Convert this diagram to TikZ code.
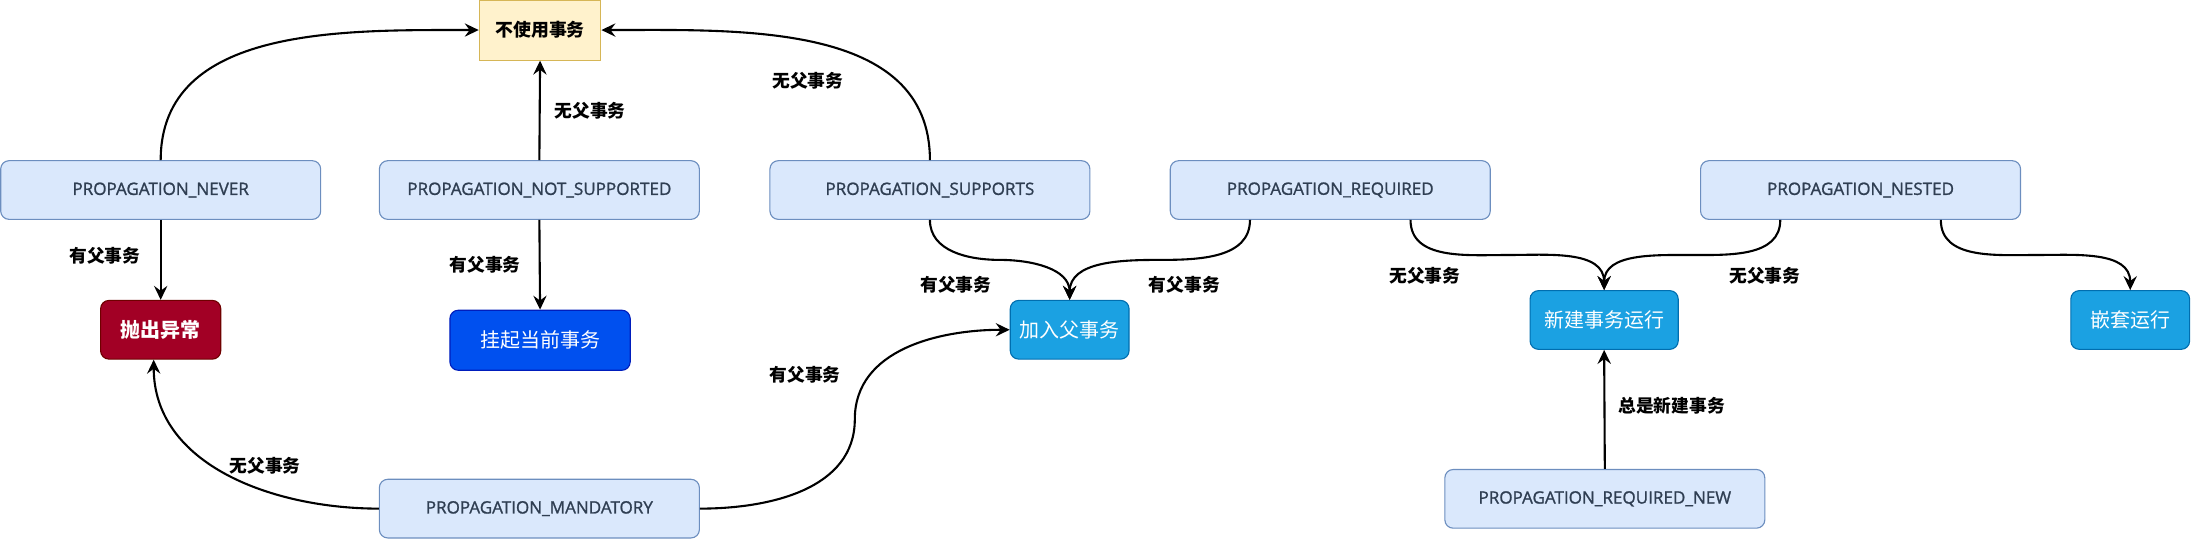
\documentclass[tikz,border=0pt]{standalone}
\usepackage{fontspec}
\setmainfont{Open Sans}
\newfontfamily\cjk{Noto Sans CJK SC}
\newfontfamily\propfont{Open Sans}[FakeBold=1.2]
\usetikzlibrary{arrows.meta,calc}
\definecolor{propfill}{HTML}{DAE8FC}
\definecolor{propline}{HTML}{6C8EBF}
\definecolor{proptext}{HTML}{2F3E52}
\definecolor{nousefill}{HTML}{FFF2CC}
\definecolor{nouseline}{HTML}{D6B656}
\definecolor{errfill}{HTML}{A20025}
\definecolor{errline}{HTML}{6F0000}
\definecolor{suspfill}{HTML}{0050EF}
\definecolor{suspline}{HTML}{001DBC}
\definecolor{runfill}{HTML}{1BA1E2}
\definecolor{runline}{HTML}{006EAF}

\begin{document}
\begin{tikzpicture}[x=1pt,y=-1pt,
   prop/.style={draw=propline,fill=propfill,rounded corners=6pt,line width=.8pt,
      minimum width=229pt,minimum height=42pt,inner sep=0pt,text=proptext,
      font=\propfont\fontsize{12.2}{14}\selectfont},
   act/.style 2 args={draw=#2,fill=#1,rounded corners=6pt,line width=.8pt,
      minimum height=42pt,inner sep=0pt,text=white,font=\cjk\fontsize{14.3}{16}\selectfont},
   lbl/.style={inner sep=0pt,font=\cjk\bfseries\fontsize{12.7}{14}\selectfont},
   arr/.style={-{Stealth[length=10pt,width=9.5pt,inset=3.5pt]},line width=1.5pt}]
\useasboundingbox (0,0) rectangle (1568,387);

\node[draw=nouseline,fill=nousefill,line width=.8pt,minimum width=87pt,minimum height=43pt,
   inner sep=0pt,font=\cjk\bfseries\fontsize{12.8}{14}\selectfont] (nouse) at (386.5,21.5) {不使用事务};
\node[prop] (never) at (115,136) {PROPAGATION\_NEVER};
\node[prop] (notsup) at (386,136) {PROPAGATION\_NOT\_SUPPORTED};
\node[prop] (sup) at (665.5,136) {PROPAGATION\_SUPPORTS};
\node[prop] (req) at (952,136) {PROPAGATION\_REQUIRED};
\node[prop] (nested) at (1331.5,136) {PROPAGATION\_NESTED};
\node[prop] (mand) at (386,364) {PROPAGATION\_MANDATORY};
\node[prop] (reqnew) at (1148.5,357) {PROPAGATION\_REQUIRED\_NEW};
\node[act={errfill}{errline},minimum width=86pt,font=\cjk\bfseries\fontsize{14.3}{16}\selectfont] (err) at (115,236) {抛出异常};
\node[act={suspfill}{suspline},minimum width=129pt,minimum height=43pt] (susp) at (386.5,243.5) {挂起当前事务};
\node[act={runfill}{runline},minimum width=85pt] (join) at (765.5,236) {加入父事务};
\node[act={runfill}{runline},minimum width=106pt] (newtx) at (1148,229) {新建事务运行};
\node[act={runfill}{runline},minimum width=85pt] (nestrun) at (1524.5,229) {嵌套运行};

\coordinate (req1) at ($(req.south west)!.25!(req.south east)$);
\coordinate (req2) at ($(req.south west)!.75!(req.south east)$);
\coordinate (nest1) at ($(nested.south west)!.25!(nested.south east)$);
\coordinate (nest2) at ($(nested.south west)!.75!(nested.south east)$);

\draw[arr] (never.north) to[out=90,in=180] (nouse.west);
\draw[arr] (notsup.north) -- node[lbl,xshift=36pt] {无父事务} (nouse.south);
\draw[arr] (sup.north) to[out=90,in=0] node[lbl,xshift=-7pt,yshift=-27pt] {无父事务} (nouse.east);
\draw[arr] (never.south) -- node[lbl,xshift=-40pt,yshift=3pt] {有父事务} (err.north);
\draw[arr] (notsup.south) -- node[lbl,xshift=-39pt] {有父事务} (susp.north);
\draw[arr] (sup.south) to[out=-90,in=180] ($(sup.south)!.5!(join.north)$)
   node[lbl,xshift=-31.5pt,yshift=-18pt] {有父事务} to[out=0,in=90] (join.north);
\draw[arr] (req1) to[out=-90,in=0] ($(req1)!.5!(join.north)$)
   node[lbl,xshift=17.5pt,yshift=-18pt] {有父事务} to[out=180,in=90] (join.north);
\draw[arr] (req2) to[out=-90,in=180] ($(req2)!.5!(newtx.north)$)
   node[lbl,xshift=-59pt,yshift=-14.5pt] {无父事务} to[out=0,in=90] (newtx.north);
\draw[arr] (nest1) to[out=-90,in=0] ($(nest1)!.5!(newtx.north)$)
   node[lbl,xshift=52pt,yshift=-14.5pt] {无父事务} to[out=180,in=90] (newtx.north);
\draw[arr] (nest2) to[out=-90,in=180] ($(nest2)!.5!(nestrun.north)$)
   to[out=0,in=90] (nestrun.north);
\draw[arr] (reqnew.north) -- node[lbl,xshift=48pt,yshift=3pt] {总是新建事务} (newtx.south);
\draw[arr] (mand.west) to[out=180,in=-90] node[lbl,xshift=27.5pt,yshift=6pt] {无父事务} ([xshift=-5pt]err.south);
\draw[arr] (mand.east) to[out=0,in=-90] ($(mand.east)!.5!(join.west)$)
   node[lbl,xshift=-35.5pt,yshift=32pt] {有父事务} to[out=90,in=180] (join.west);
\end{tikzpicture}
\end{document}
